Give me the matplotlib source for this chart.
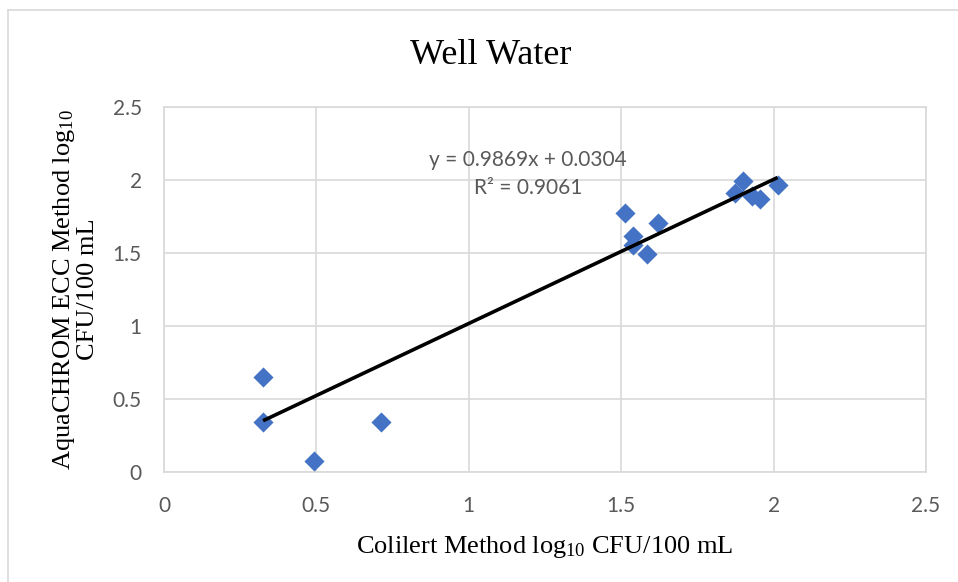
import matplotlib.pyplot as plt
from matplotlib.lines import Line2D
import numpy as np

# Colilert vs AquaCHROM ECC, log10 CFU/100 mL
colilert = [0.325, 0.325, 0.492, 0.711, 1.511, 1.538, 1.538, 1.586, 1.621,
            1.875, 1.900, 1.928, 1.957, 2.013]
aquachrom = [0.653, 0.345, 0.077, 0.345, 1.772, 1.616, 1.555, 1.493, 1.703,
             1.909, 1.990, 1.890, 1.868, 1.966]

slope = 0.9869
intercept = 0.0304
r_squared = 0.9061

ticks = [0, 0.5, 1, 1.5, 2, 2.5]
tick_labels = ["0", "0.5", "1", "1.5", "2", "2.5"]

plt.rcParams['mathtext.fontset'] = 'custom'
plt.rcParams['mathtext.rm'] = 'Liberation Serif'
plt.rcParams['mathtext.it'] = 'Liberation Serif:italic'

grid_col = '#D9D9D9'
tick_col = '#595959'

f = plt.figure(figsize=(9.58, 5.82), dpi=100)
ax = f.add_axes([164 / 958, 1 - 472 / 582, (926 - 164) / 958, (472 - 107) / 582])

ax.scatter(colilert, aquachrom, marker='D', s=105, color='#4472C4', zorder=3, linewidths=0)

xs = np.array([min(colilert), max(colilert)])
ax.plot(xs, slope * xs + intercept, color='black', linewidth=2.6, zorder=4,
        solid_capstyle='butt')

ax.text(1.194, 2.137, "y = %.4fx + %.4f" % (slope, intercept), ha='center', va='center',
        fontsize=15, family='Lato', color=tick_col)
ax.text(1.194, 1.945, "R² = %.4f" % r_squared, ha='center', va='center',
        fontsize=15, family='Lato', color=tick_col)

ax.set_xlim(0, 2.5)
ax.set_ylim(0, 2.5)
ax.set_xticks(ticks)
ax.set_xticklabels(tick_labels)
ax.set_yticks(ticks)
ax.set_yticklabels(tick_labels)
ax.tick_params(length=0, labelsize=15, labelcolor=tick_col)
ax.tick_params(axis='x', pad=17)
ax.tick_params(axis='y', pad=16)
for lab in ax.get_xticklabels() + ax.get_yticklabels():
    lab.set_family('Lato')

ax.grid(True, color=grid_col, linewidth=1.2)
ax.set_axisbelow(True)
for s in ax.spines.values():
    s.set_color(grid_col)
    s.set_linewidth(1.2)

ax.set_xlabel("Colilert Method log$_{10}$ CFU/100 mL", family='Liberation Serif',
              fontsize=19, labelpad=13)
ax.set_ylabel("AquaCHROM ECC Method log$_{10}$\nCFU/100 mL", family='Liberation Serif',
              fontsize=19, labelpad=10, linespacing=1.0)

f.text(491 / 958, 1 - 55 / 582, "Well Water", ha='center', va='center',
       family='Liberation Serif', fontsize=26)

# chart area border (only top/left visible in the crop)
x0 = 8 / 958
y0 = 1 - 10 / 582
f.add_artist(Line2D([x0, x0], [0, y0], color=grid_col, linewidth=1.2))
f.add_artist(Line2D([x0, 1], [y0, y0], color=grid_col, linewidth=1.2))

f.savefig('out.png', dpi=100)
